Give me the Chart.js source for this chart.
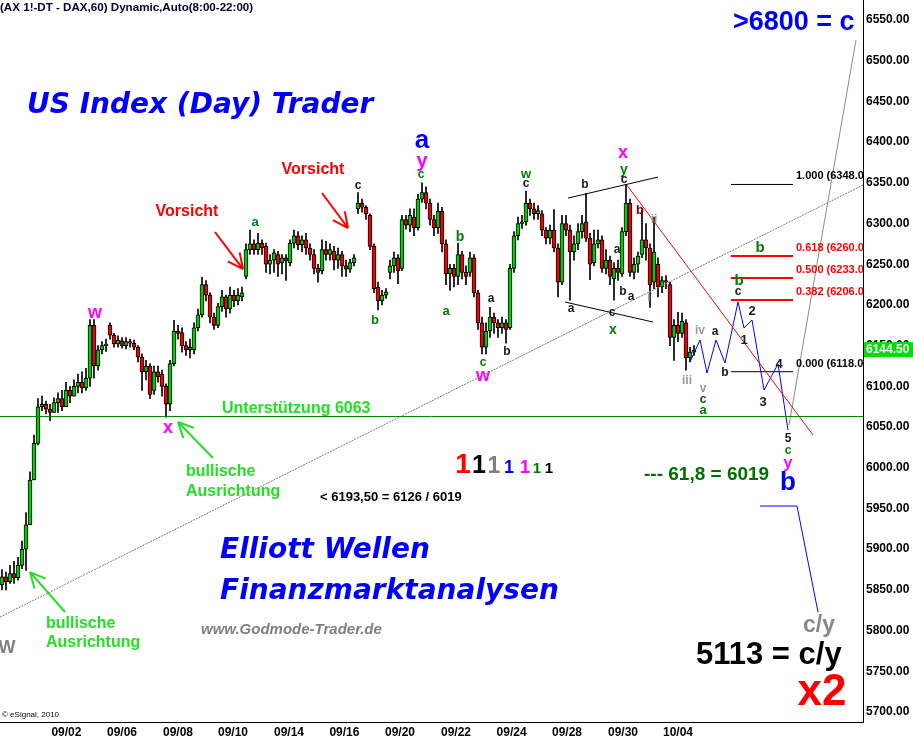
<!DOCTYPE html>
<html>
<head>
<meta charset="utf-8">
<script src="https://cdn.jsdelivr.net/npm/chart.js@4.4.0/dist/chart.umd.min.js"></script>
<style>
html, body { margin: 0; padding: 0; background: #fff; }
canvas { display: block; }
</style>
</head>
<body>
<canvas id="dax" width="913" height="739"></canvas>
<script>
// hourly DAX candles: [open, high, low, close]
const sep01to03 = [
  [5856,5875,5850,5866],[5866,5872,5850,5860],[5860,5880,5858,5870],[5870,5885,5858,5865],
  [5865,5890,5862,5880],[5880,5910,5876,5900],[5900,5945,5874,5930],[5930,5995,5930,5985],
  [5985,6040,5985,6030],[6030,6085,6028,6075],[6075,6088,6070,6078],[6078,6082,6066,6072],
  [6072,6078,6058,6068],[6068,6086,6068,6080],[6080,6092,6068,6085],[6085,6095,6070,6075],
  [6075,6105,6075,6095],[6095,6100,6080,6088],[6088,6108,6088,6100],[6100,6115,6092,6105],
  [6105,6118,6092,6098],[6098,6122,6095,6110],[6110,6182,6100,6175],[6175,6182,6110,6125],
  [6125,6150,6120,6145],[6145,6155,6140,6150],[6150,6158,6143,6152]
];
const sep06to10 = [
  [6175,6178,6158,6163],[6163,6165,6148,6152],[6152,6162,6148,6157],[6156,6160,6147,6150],
  [6150,6160,6146,6155],[6155,6158,6148,6153],[6153,6157,6145,6148],[6148,6150,6130,6136],
  [6136,6140,6095,6118],[6118,6132,6108,6125],[6125,6128,6085,6090],[6095,6125,6090,6118],
  [6118,6125,6105,6112],[6115,6120,6088,6100],[6100,6103,6062,6078],[6078,6132,6070,6128],
  [6128,6181,6125,6168],[6168,6175,6158,6165],[6166,6172,6142,6150],[6150,6155,6138,6145],
  [6145,6158,6135,6148],[6145,6178,6140,6172],[6172,6195,6168,6188],[6188,6234,6185,6225],
  [6225,6230,6205,6212],[6212,6215,6178,6185],[6185,6190,6170,6175],[6175,6202,6172,6198],
  [6198,6218,6192,6210],[6210,6212,6185,6195],[6195,6222,6190,6212],[6212,6218,6198,6205],
  [6205,6220,6200,6212],[6210,6222,6205,6215]
];
const sep13to17 = [
  [6235,6275,6232,6268],[6268,6292,6262,6275],[6275,6280,6262,6268],[6268,6288,6262,6276],
  [6276,6280,6262,6270],[6272,6276,6240,6250],[6250,6262,6238,6255],[6255,6268,6240,6264],
  [6262,6266,6235,6250],[6252,6262,6238,6258],[6258,6262,6230,6254],[6252,6280,6248,6276],
  [6276,6292,6270,6285],[6285,6290,6268,6274],[6274,6285,6265,6280],[6280,6288,6262,6270],
  [6270,6275,6255,6262],[6262,6268,6238,6245],[6245,6250,6228,6240],[6242,6280,6238,6268],
  [6268,6278,6255,6262],[6262,6275,6255,6268],[6266,6272,6243,6255],[6255,6270,6245,6262],
  [6262,6266,6235,6248],[6248,6255,6235,6244],[6244,6256,6240,6252],[6252,6262,6248,6258]
];
const sep20to24 = [
  [6318,6338,6312,6325],[6325,6330,6314,6320],[6320,6322,6305,6312],[6310,6312,6268,6272],
  [6272,6275,6215,6220],[6222,6228,6194,6205],[6205,6218,6200,6212],[6212,6220,6208,6216],
  [6240,6255,6232,6248],[6248,6265,6240,6258],[6258,6262,6226,6242],[6245,6310,6242,6305],
  [6305,6310,6293,6298],[6298,6318,6290,6310],[6308,6318,6285,6295],[6295,6336,6292,6330],
  [6330,6350,6326,6338],[6338,6345,6318,6325],[6325,6330,6298,6305],[6305,6310,6285,6295],
  [6295,6325,6288,6315],[6315,6320,6265,6275],[6275,6280,6225,6238],[6238,6250,6218,6245],
  [6245,6250,6222,6235],[6235,6276,6225,6262],[6262,6266,6232,6240],[6240,6248,6225,6235],
  [6240,6265,6235,6258],[6258,6262,6210,6215],[6215,6218,6170,6178],[6178,6185,6140,6148],
  [6148,6178,6140,6168],[6168,6197,6160,6185],[6185,6190,6165,6178],[6178,6182,6160,6172],
  [6172,6185,6165,6178],[6178,6182,6153,6170]
];
const sep27toOct01 = [
  [6172,6250,6170,6245],[6245,6290,6240,6285],[6285,6308,6280,6300],[6300,6310,6294,6302],
  [6302,6340,6298,6325],[6325,6330,6310,6318],[6318,6325,6305,6312],[6312,6322,6305,6316],
  [6312,6316,6285,6292],[6292,6295,6275,6282],[6282,6298,6275,6292],[6292,6317,6265,6270],
  [6270,6275,6210,6228],[6228,6310,6225,6300],[6300,6310,6285,6292],[6292,6298,6206,6265],
  [6265,6285,6255,6275],[6275,6300,6268,6290],[6290,6310,6282,6300],[6302,6337,6278,6282],
  [6282,6288,6231,6250],[6252,6292,6248,6275],[6275,6292,6270,6280],[6280,6285,6240,6245],
  [6245,6268,6238,6255],[6255,6260,6225,6235],[6232,6252,6206,6245],[6245,6255,6230,6240],
  [6238,6295,6235,6290],[6290,6348,6285,6325],[6325,6330,6235,6240],[6240,6258,6232,6250],
  [6250,6265,6240,6260],[6262,6317,6258,6280],[6280,6300,6255,6270],[6270,6275,6197,6225],
  [6228,6308,6220,6265],[6250,6258,6210,6222],[6222,6235,6215,6230],[6230,6236,6220,6228]
];
const oct04 = [
  [6225,6228,6150,6160],[6160,6182,6132,6175],[6175,6191,6155,6165],[6165,6190,6160,6180],
  [6178,6182,6120,6135],[6135,6148,6130,6142],[6142,6150,6138,6144.5]
];

const dateLabels = ['09/02','09/06','09/08','09/10','09/14','09/16','09/20','09/22','09/24','09/28','09/30','10/04'];
const dateTickBar = [16.1, 30, 44, 57.75, 71.75, 85.6, 99.5, 113.5, 127.4, 141.25, 155.25, 169];
const priceTicks = [5700,5750,5800,5850,5900,5950,6000,6050,6100,6150,6200,6250,6300,6350,6400,6450,6500,6550];

// drawn lines: [bar index, price]
const supportLevel = 6063;
const riseLine = [[-0.5, 5816.6], [215.25, 6347.3]];
const fallLine = [[156.25, 6347], [202.75, 6040.2]];
const channelTop = [[141.5, 6331.3], [164, 6357.1]];
const channelBottom = [[140.75, 6203.6], [162.75, 6179]];
const upLeg = [[196.75, 6052.5], [213.5, 6525.4]];
const projection = [[172, 6129.9], [174.5, 6156.9], [176.25, 6116.4], [178.5, 6156.9], [180.75, 6128.7],
  [184, 6203.6], [185.5, 6171.7], [187.5, 6181.5], [190.5, 6095.5], [194, 6127.4], [196.5, 6046.4]];
const projectionLow = [[189.5, 5953], [198.75, 5953], [204, 5822.8]];
const fibLevels = ['1.000', '0.618', '0.500', '0.382', '0.000'];
const fibPrices = [6348, 6260, 6233, 6206, 6118];
const fibFrom = 182.25, fibTo = 197.75;

const bars = [].concat(sep01to03, sep06to10, sep13to17, sep20to24, sep27toOct01, oct04);

const FONT = "'Liberation Sans', Arial, Helvetica, sans-serif";
const WIDE = "'DejaVu Sans', Verdana, sans-serif";
const BLUE = '#0000ff', MAG = '#ff00ff', GRN = '#008000', LIME = '#22e022', RED = '#ff0000', DARK = '#1a1a1a', GREY = '#999999';

// text notes: [text, bar index, price, colour, font, align, family]
const notes = [
  ['(AX 1!-DT - DAX,60) Dynamic,Auto(8:00-22:00)', -0.5, 6564.7, '#000033', 'bold 11.6px', 'left'],
  ['US Index (Day) Trader', 6.25, 6444.4, BLUE, 'italic bold 28px', 'left', WIDE],
  ['Elliott Wellen', 54.5, 5897.7, BLUE, 'italic bold 28px', 'left', WIDE],
  ['Finanzmarktanalysen', 54.5, 5847.4, BLUE, 'italic bold 28px', 'left', WIDE],
  ['www.Godmode-Trader.de', 49.75, 5800.7, '#808080', 'italic bold 15px', 'left'],
  ['>6800 = c', 182.75, 6547.5, BLUE, 'bold 27px', 'left'],
  ['Vorsicht', 77.75, 6365.7, RED, 'bold 16px'],
  ['Vorsicht', 46.25, 6314.1, RED, 'bold 16px'],
  ['Unterstützung 6063', 55, 6072.2, LIME, 'bold 16px', 'left'],
  ['bullische', 46, 5994.8, LIME, 'bold 16px', 'left'],
  ['Ausrichtung', 46, 5970.2, LIME, 'bold 16px', 'left'],
  ['bullische', 11, 5808.0, LIME, 'bold 16px', 'left'],
  ['Ausrichtung', 11, 5784.7, LIME, 'bold 16px', 'left'],
  ['w', 23.25, 6190.1, MAG, 'bold 18px'],
  ['x', 41.5, 6048.8, MAG, 'bold 18px'],
  ['W', 1.25, 5778.6, '#808080', 'bold 18px'],
  ['a', 63.25, 6301.9, GRN, 'bold 13px'],
  ['c', 89, 6346.1, DARK, 'bold 12px'],
  ['b', 93.25, 6181.5, GRN, 'bold 13px'],
  ['a', 105, 6401.4, BLUE, 'bold 26px'],
  ['y', 105, 6376.8, MAG, 'bold 20px'],
  ['c', 104.75, 6359.6, GRN, 'bold 12px'],
  ['b', 114.5, 6283.4, GRN, 'bold 14px'],
  ['a', 111, 6192.5, GRN, 'bold 13px'],
  ['a', 122.25, 6207.3, DARK, 'bold 12px'],
  ['b', 126.25, 6142.2, DARK, 'bold 12px'],
  ['c', 120.25, 6128.7, GRN, 'bold 12px'],
  ['w', 120.25, 6112.7, MAG, 'bold 18px'],
  ['w', 131, 6360.8, GRN, 'bold 13px'],
  ['c', 131, 6348.5, DARK, 'bold 12px'],
  ['b', 145.75, 6347.3, DARK, 'bold 12px'],
  ['a', 142.25, 6195.0, DARK, 'bold 12px'],
  ['c', 152.5, 6190.1, DARK, 'bold 12px'],
  ['x', 152.75, 6169.2, GRN, 'bold 14px'],
  ['x', 155.25, 6386.6, MAG, 'bold 18px'],
  ['y', 155.5, 6365.7, GRN, 'bold 14px'],
  ['c', 155.5, 6353.5, DARK, 'bold 12px'],
  ['b', 159.5, 6316.6, '#800000', 'bold 13px'],
  ['ii', 163, 6304.3, GREY, 'bold 12px'],
  ['a', 153.75, 6267.5, DARK, 'bold 12px'],
  ['b', 155.25, 6215.9, DARK, 'bold 12px'],
  ['a', 157.25, 6209.7, DARK, 'bold 12px'],
  ['i', 161.75, 6208.5, GREY, 'bold 12px'],
  ['iii', 171.25, 6106.5, GREY, 'bold 12px'],
  ['iv', 174.5, 6168.0, GREY, 'bold 12px'],
  ['v', 175.25, 6096.7, GREY, 'bold 12px'],
  ['c', 175.25, 6083.2, '#1a4d1a', 'bold 12px'],
  ['a', 175.25, 6070.9, GRN, 'bold 13px'],
  ['a', 178.25, 6166.7, DARK, 'bold 12px'],
  ['b', 180.75, 6116.4, DARK, 'bold 12px'],
  ['b', 184.25, 6229.4, GRN, 'bold 15px'],
  ['c', 184, 6215.9, DARK, 'bold 12px'],
  ['1', 185.5, 6156.9, DARK, 'bold 13px'],
  ['2', 187.5, 6192.5, DARK, 'bold 13px'],
  ['3', 190.25, 6080.4, DARK, 'bold 13px'],
  ['4', 194.25, 6127.4, DARK, 'bold 13px'],
  ['5', 196.5, 6035.3, DARK, 'bold 12px'],
  ['c', 196.5, 6020.6, GRN, 'bold 12px'],
  ['y', 196.5, 6004.6, MAG, 'bold 16px'],
  ['b', 196.5, 5981.3, BLUE, 'bold 26px'],
  ['b', 189.5, 6269.9, GRN, 'bold 15px'],
  ['< 6193,50 = 6126 / 6019', 79.5, 5964.0, '#000', 'bold 13px', 'left'],
  ['--- 61,8 = 6019', 160.5, 5991.1, '#006f00', 'bold 19px', 'left'],
  ['c/y', 204.25, 5805.6, '#888888', 'bold 23px'],
  ['5113 = c/y', 173.5, 5770.0, '#000', 'bold 31px', 'left'],
  ['x2', 205, 5723.3, RED, 'bold 44px'],
  ['\u00a9 eSignal, 2010', 0, 5696.3, '#000', '8px', 'left']
];
// the row of coloured ones, sitting on one baseline
const onesBase = 5993.5;
const ones = [[115.25, RED, 28], [119.25, '#000', 25], [123, '#808080', 23], [126.75, BLUE, 18],
  [130.75, MAG, 18], [133.75, GRN, 15], [136.75, '#000', 15]];

const arrows = [
  [[80, 6337.5], [86.5, 6294.5], RED],
  [[53.25, 6289.6], [60.25, 6244.1], RED],
  [[52.75, 6012.0], [44, 6056.2], LIME],
  [[15.75, 5822.8], [7, 5871.9], LIME]
];

function pts(a) { return a.map(p => ({x: p[0], y: p[1]})); }
function lineSet(data, color, width, dash) {
  return {type: 'line', data: pts(data), borderColor: color, borderWidth: width || 1,
    borderDash: dash || [], pointRadius: 0, tension: 0, fill: false, order: 0};
}

const datasets = [
  {type: 'bar', data: bars.map((b, i) => ({x: i, y: [b[2], b[1]]})), backgroundColor: '#000',
    barThickness: 1, grouped: false, order: 2},
  {type: 'bar', data: bars.map((b, i) => ({x: i, y: [b[0], b[3]]})),
    backgroundColor: bars.map(b => b[3] >= b[0] ? '#00cc00' : '#ee0000'),
    borderColor: '#000', borderWidth: 1, borderSkipped: false, barThickness: 4, grouped: false, order: 1},
  lineSet([[-0.5, supportLevel], [215.25, supportLevel]], '#008000'),
  lineSet(riseLine, '#7a7a7a', 1, [2, 1]),
  lineSet(fallLine, RED),
  lineSet(channelTop, '#000'),
  lineSet(channelBottom, '#000'),
  lineSet(upLeg, '#8a8a8a'),
  lineSet(projection, BLUE),
  lineSet(projectionLow, BLUE)
];
fibPrices.forEach((p, k) => {
  datasets.push(lineSet([[fibFrom, p], [fibTo, p]], (k === 0 || k === 4) ? '#000' : RED, (k === 0 || k === 4) ? 1 : 2));
});

const notesPlugin = {
  id: 'notes',
  afterDatasetsDraw(chart) {
    const ctx = chart.ctx, xs = chart.scales.x, ys = chart.scales.y, a = chart.chartArea;
    const px = v => xs.getPixelForValue(v), py = v => ys.getPixelForValue(v);
    ctx.save();
    ctx.beginPath();
    ctx.rect(a.left, a.top, a.right - a.left, a.bottom - a.top);
    ctx.clip();

    arrows.forEach(ar => {
      const x0 = px(ar[0][0]), y0 = py(ar[0][1]), x1 = px(ar[1][0]), y1 = py(ar[1][1]);
      const ang = Math.atan2(y1 - y0, x1 - x0);
      ctx.strokeStyle = ar[2];
      ctx.lineWidth = 2;
      ctx.beginPath();
      ctx.moveTo(x0, y0); ctx.lineTo(x1, y1);
      [-0.45, 0.45].forEach(s => {
        ctx.moveTo(x1, y1);
        ctx.lineTo(x1 - 17 * Math.cos(ang + s), y1 - 17 * Math.sin(ang + s));
      });
      ctx.stroke();
    });

    ctx.textBaseline = 'middle';
    notes.forEach(n => {
      ctx.font = n[4] + ' ' + (n[6] || FONT);
      ctx.fillStyle = n[3];
      ctx.textAlign = n[5] || 'center';
      ctx.fillText(n[0], px(n[1]), py(n[2]));
    });

    ctx.textBaseline = 'alphabetic';
    ctx.textAlign = 'center';
    ones.forEach(o => {
      ctx.font = 'bold ' + o[2] + 'px ' + FONT;
      ctx.fillStyle = o[1];
      ctx.fillText('1', px(o[0]), py(onesBase));
    });

    ctx.textBaseline = 'middle';
    ctx.textAlign = 'left';
    ctx.font = 'bold 11px ' + FONT;
    fibLevels.forEach((f, k) => {
      ctx.fillStyle = (k === 0 || k === 4) ? '#000' : RED;
      ctx.fillText(f + ' (' + fibPrices[k].toFixed(2) + ')', px(fibTo) + 3, py(fibPrices[k]) - 8);
    });
    ctx.restore();
  },
  afterDraw(chart) {
    const ctx = chart.ctx, ys = chart.scales.y, a = chart.chartArea;
    const last = bars[bars.length - 1][3];
    const y = ys.getPixelForValue(last);
    ctx.save();
    ctx.fillStyle = '#00e000';
    ctx.fillRect(a.right + 1, y - 8, chart.width - a.right - 1, 15);
    ctx.fillStyle = '#fff';
    ctx.font = 'bold 12px ' + FONT;
    ctx.textAlign = 'left';
    ctx.textBaseline = 'middle';
    ctx.fillText(last.toFixed(2), a.right + 3, y);
    ctx.restore();
  }
};

new Chart(document.getElementById('dax'), {
  type: 'bar',
  data: {datasets: datasets},
  options: {
    responsive: false,
    animation: false,
    events: [],
    layout: {padding: 0},
    plugins: {legend: {display: false}, tooltip: {enabled: false}},
    scales: {
      x: {
        type: 'linear', min: -0.5, max: 215.25, offset: false,
        grid: {display: false, drawTicks: false},
        border: {display: true, color: '#000', width: 1},
        afterBuildTicks: s => { s.ticks = dateTickBar.map(v => ({value: v})); },
        afterFit: s => { s.height = 17; s.paddingLeft = 0; s.paddingRight = 0; },
        ticks: {
          autoSkip: false, maxRotation: 0, padding: 3, color: '#000',
          font: {family: FONT, size: 12, weight: 'bold'},
          callback: (v, i) => dateLabels[i]
        }
      },
      y: {
        type: 'linear', position: 'right', min: 5687.7, max: 6574.6,
        grid: {display: false, drawTicks: false},
        border: {display: true, color: '#000', width: 1},
        afterBuildTicks: s => { s.ticks = priceTicks.map(v => ({value: v})); },
        afterFit: s => { s.width = 50; s.paddingTop = 0; s.paddingBottom = 0; },
        ticks: {
          padding: 3, color: '#000',
          font: {family: FONT, size: 12, weight: 'bold'},
          callback: v => v.toFixed(2)
        }
      }
    }
  },
  plugins: [notesPlugin]
});
</script>
</body>
</html>
